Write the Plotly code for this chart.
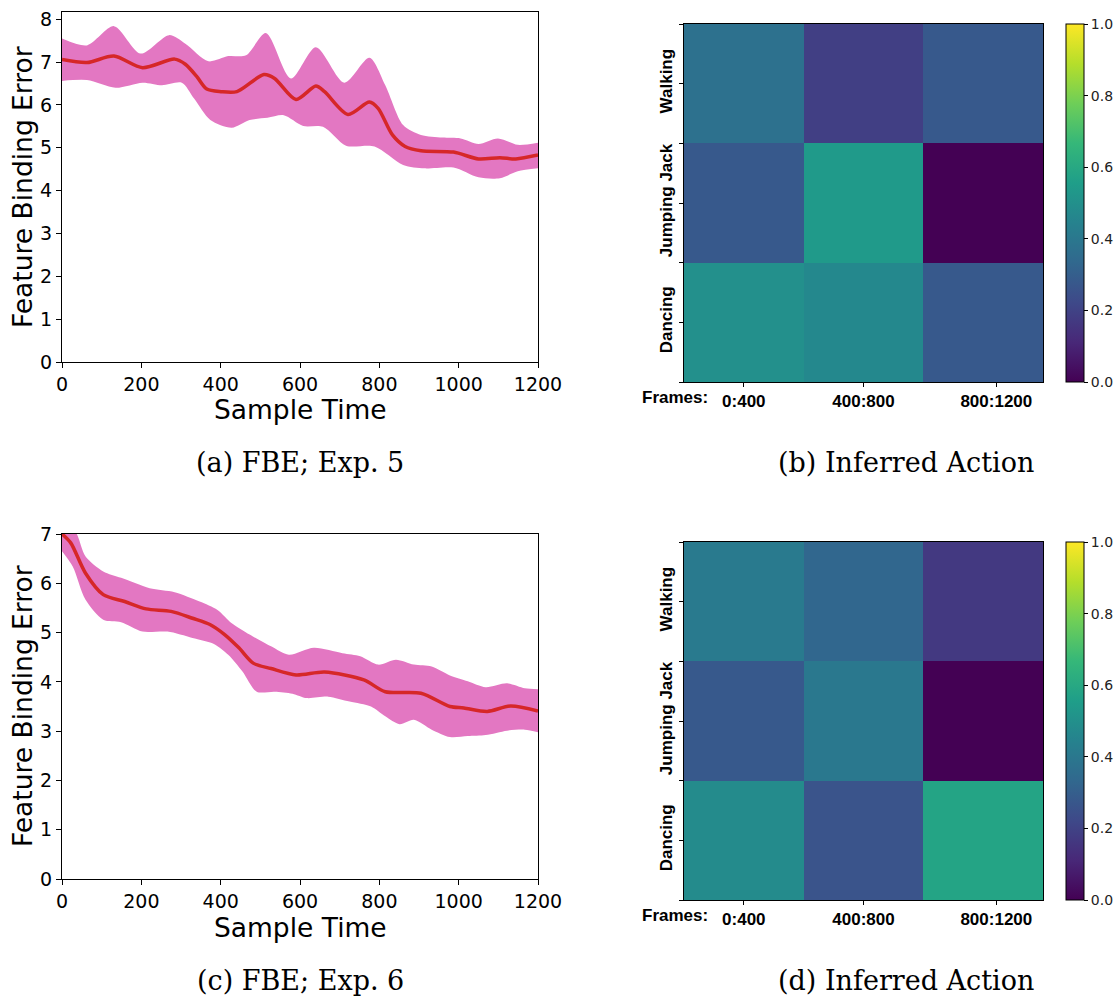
import plotly.graph_objects as go

W, H = 1120, 999

# ---- Exp. 5 feature binding error (mean and band) ----
exp5_mean_t = [0, 63, 131, 203, 284, 311, 340, 365, 401, 441, 509, 536, 590, 640, 662, 721, 775, 797, 833, 865, 905, 987, 1050, 1104, 1144, 1200]
exp5_mean_v = [7.06, 6.99, 7.14, 6.87, 7.07, 6.95, 6.66, 6.37, 6.31, 6.31, 6.71, 6.62, 6.13, 6.44, 6.31, 5.78, 6.07, 5.92, 5.30, 5.03, 4.93, 4.90, 4.74, 4.77, 4.74, 4.83]
exp5_upper_t = [0, 63, 131, 198, 270, 311, 369, 419, 464, 514, 577, 640, 712, 775, 815, 860, 905, 959, 1005, 1050, 1099, 1149, 1200]
exp5_upper_v = [7.55, 7.39, 7.84, 7.20, 7.63, 7.43, 7.02, 7.14, 7.16, 7.68, 6.62, 7.35, 6.52, 7.10, 6.46, 5.53, 5.30, 5.24, 5.22, 5.09, 5.22, 5.07, 5.12]
exp5_lower_t = [0, 63, 135, 203, 252, 302, 333, 374, 428, 473, 518, 559, 608, 658, 716, 788, 860, 914, 987, 1050, 1104, 1149, 1200]
exp5_lower_v = [6.56, 6.58, 6.40, 6.52, 6.46, 6.52, 6.15, 5.65, 5.47, 5.65, 5.70, 5.76, 5.51, 5.49, 5.05, 5.03, 4.60, 4.52, 4.54, 4.31, 4.29, 4.45, 4.52]

# ---- Exp. 6 feature binding error (mean and band) ----
exp6_mean_t = [0, 22, 59, 104, 158, 212, 275, 329, 374, 410, 446, 482, 527, 590, 662, 761, 815, 905, 978, 1013, 1072, 1131, 1200]
exp6_mean_v = [7.00, 6.82, 6.21, 5.77, 5.63, 5.48, 5.43, 5.29, 5.16, 4.96, 4.69, 4.38, 4.27, 4.14, 4.20, 4.04, 3.80, 3.77, 3.50, 3.47, 3.40, 3.51, 3.41]
exp6_upper_t = [0, 36, 59, 104, 149, 221, 284, 347, 392, 428, 473, 527, 572, 635, 707, 752, 797, 842, 887, 932, 978, 1023, 1068, 1122, 1167, 1200]
exp6_upper_v = [7.35, 7.02, 6.55, 6.24, 6.11, 5.90, 5.82, 5.63, 5.46, 5.19, 4.96, 4.72, 4.55, 4.69, 4.58, 4.52, 4.35, 4.45, 4.35, 4.31, 4.13, 4.01, 3.89, 3.97, 3.87, 3.85]
exp6_lower_t = [0, 27, 59, 104, 149, 203, 266, 329, 383, 419, 455, 491, 536, 581, 617, 671, 725, 779, 815, 851, 887, 932, 978, 1023, 1068, 1122, 1167, 1200]
exp6_lower_v = [6.65, 6.34, 5.67, 5.26, 5.21, 5.02, 5.02, 4.89, 4.77, 4.55, 4.21, 3.80, 3.80, 3.76, 3.67, 3.70, 3.60, 3.50, 3.30, 3.14, 3.23, 3.03, 2.88, 2.90, 2.92, 3.01, 3.03, 2.98]

# ---- Inferred action probabilities ----
actions = ["Walking", "Jumping Jack", "Dancing"]
frame_bins = ["0:400", "400:800", "800:1200"]
action_exp5 = [
    [0.37, 0.19, 0.28],
    [0.28, 0.54, 0.00],
    [0.50, 0.47, 0.28],
]
action_exp6 = [
    [0.41, 0.33, 0.17],
    [0.28, 0.40, 0.00],
    [0.48, 0.26, 0.58],
]

MEAN_COLOR = "#d62728"
BAND_COLOR = "rgb(227,119,194)"
TICK_FONT = dict(family="DejaVu Sans", size=19, color="black")
BOLD_FONT = dict(family="Liberation Sans", size=17, color="black", weight="bold")


def px_x(p):
    return p / W


def px_y(p):
    return 1 - p / H


fig = go.Figure()


def add_fbe(xa, ya, up_t, up_v, lo_t, lo_v, m_t, m_v):
    fig.add_trace(go.Scatter(x=lo_t, y=lo_v, mode="lines", line=dict(width=0, shape="spline", smoothing=0.8),
                             xaxis=xa, yaxis=ya, showlegend=False, hoverinfo="skip"))
    fig.add_trace(go.Scatter(x=up_t, y=up_v, mode="lines", line=dict(width=0, shape="spline", smoothing=0.8),
                             fill="tonexty", fillcolor=BAND_COLOR,
                             xaxis=xa, yaxis=ya, showlegend=False, hoverinfo="skip"))
    fig.add_trace(go.Scatter(x=m_t, y=m_v, mode="lines", line=dict(color=MEAN_COLOR, width=3.5, shape="spline", smoothing=0.8),
                             xaxis=xa, yaxis=ya, showlegend=False))


add_fbe("x", "y", exp5_upper_t, exp5_upper_v, exp5_lower_t, exp5_lower_v, exp5_mean_t, exp5_mean_v)
add_fbe("x3", "y3", exp6_upper_t, exp6_upper_v, exp6_lower_t, exp6_lower_v, exp6_mean_t, exp6_mean_v)


def add_heat(xa, ya, z, top, bottom):
    fig.add_trace(go.Heatmap(
        z=z, x=[0, 1, 2], y=[0, 1, 2], xaxis=xa, yaxis=ya,
        colorscale="Viridis", zmin=0, zmax=1, showscale=True,
        colorbar=dict(
            x=px_x(1066), xanchor="left", xpad=0, ypad=0,
            y=px_y((top + bottom) / 2), yanchor="middle",
            len=bottom - top, lenmode="pixels", thickness=18,
            outlinewidth=1, outlinecolor="black",
            ticks="outside", ticklen=4, tickwidth=1, tickcolor="black",
            tickvals=[0, 0.2, 0.4, 0.6, 0.8, 1.0], ticktext=["0.0", "0.2", "0.4", "0.6", "0.8", "1.0"],
            tickfont=dict(family="DejaVu Sans", size=14, color="#222"),
        ),
    ))


add_heat("x2", "y2", action_exp5, 24, 382)
add_heat("x4", "y4", action_exp6, 542, 900)

line_axis = dict(showline=True, linecolor="black", linewidth=1, mirror=True, ticks="outside",
                 ticklen=5, tickwidth=1, tickcolor="black", showgrid=False, zeroline=False,
                 tickfont=TICK_FONT, automargin=False)

fig.update_layout(
    width=W, height=H, margin=dict(l=0, r=0, t=0, b=0, autoexpand=False),
    paper_bgcolor="white", plot_bgcolor="white",
    xaxis=dict(domain=[px_x(62), px_x(538)], range=[0, 1200], anchor="y",
               tickvals=[0, 200, 400, 600, 800, 1000, 1200], **line_axis),
    yaxis=dict(domain=[px_y(362), px_y(12)], range=[0, 8.17], anchor="x",
               tickvals=list(range(0, 9)), **line_axis),
    xaxis3=dict(domain=[px_x(62), px_x(538)], range=[0, 1200], anchor="y3",
                tickvals=[0, 200, 400, 600, 800, 1000, 1200], **line_axis),
    yaxis3=dict(domain=[px_y(879), px_y(534)], range=[0, 7], anchor="x3",
                tickvals=list(range(0, 8)), **line_axis),
)

heat_x = dict(range=[-0.5, 2.5], showline=True, linecolor="black", linewidth=1, mirror=True,
              ticks="outside", ticklen=4, tickcolor="black", showgrid=False, zeroline=False,
              tickvals=[0, 1, 2.11], ticktext=frame_bins, tickfont=BOLD_FONT, automargin=False)
heat_y = dict(range=[2.5, -0.5], showline=True, linecolor="black", linewidth=1, mirror=True,
              ticks="outside", ticklen=4, tickcolor="black", showgrid=False, zeroline=False,
              tickvals=[-0.5, 0, 0.5, 1, 1.5, 2, 2.5],
              ticktext=["", actions[0], "", actions[1], "", actions[2], ""],
              tickangle=-90, tickfont=BOLD_FONT, automargin=False)

fig.update_layout(
    xaxis2=dict(domain=[px_x(684), px_x(1043)], anchor="y2", **heat_x),
    yaxis2=dict(domain=[px_y(382), px_y(24)], anchor="x2", **heat_y),
    xaxis4=dict(domain=[px_x(684), px_x(1043)], anchor="y4", **heat_x),
    yaxis4=dict(domain=[px_y(900), px_y(542)], anchor="x4", **heat_y),
)

ann = []
title_font = dict(family="DejaVu Sans", size=26.5, color="black")
for cx_title, cy_x, cy_y in [(409, 22, 187), (927, 22, 706)]:
    ann.append(dict(text="Sample Time", x=px_x(300), y=px_y(cx_title), xref="paper", yref="paper",
                    showarrow=False, font=title_font, xanchor="center", yanchor="middle"))
    ann.append(dict(text="Feature Binding Error", x=px_x(cy_x), y=px_y(cy_y), xref="paper", yref="paper",
                    showarrow=False, font=title_font, textangle=-90, xanchor="center", yanchor="middle"))
for fy in [397, 915]:
    ann.append(dict(text="Frames:", x=px_x(640), y=px_y(fy), xref="paper", yref="paper", showarrow=False,
                    font=BOLD_FONT, xanchor="left", yanchor="middle"))

cap_font = dict(family="DejaVu Serif", size=27, color="black")
for text, cx, cy in [("(a) FBE; Exp. 5", 300, 462), ("(b) Inferred Action", 906, 462),
                     ("(c) FBE; Exp. 6", 300, 980), ("(d) Inferred Action", 906, 980)]:
    ann.append(dict(text=text, x=px_x(cx), y=px_y(cy), xref="paper", yref="paper", showarrow=False,
                    font=cap_font, xanchor="center", yanchor="middle"))

fig.update_layout(annotations=ann)

fig.write_html("out.html")
